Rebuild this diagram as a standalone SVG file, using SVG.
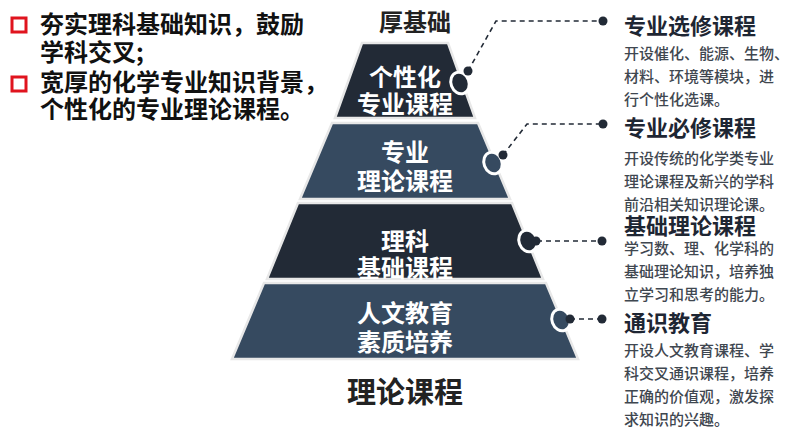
<svg xmlns="http://www.w3.org/2000/svg" width="798" height="433" viewBox="0 0 798 433">
<defs>
<style>
text{font-family:"Noto Sans CJK SC","Liberation Sans",sans-serif;}
.lt{font-size:24px;font-weight:700;fill:#111;}
.layer-dark{fill:#222a36;stroke:#e8e8e8;stroke-width:2.5;}
.layer-slate{fill:#364a60;stroke:#e8e8e8;stroke-width:2.5;}
.lyt{font-size:24px;font-weight:700;fill:#fff;text-anchor:middle;}
.ttl{font-size:22px;font-weight:700;fill:#1e2633;}
.body{font-size:15px;font-weight:500;fill:#3f4750;}
.dash{fill:none;stroke:#222a36;stroke-width:1.6;stroke-dasharray:5 4;}
.dot{fill:#222a36;}
.bump{stroke:#fff;stroke-width:3;}
.mark{fill:#fff;stroke:#e0141e;stroke-width:3;}
</style>
</defs>
<rect width="798" height="433" fill="#fff"/>

<g id="intro">
<rect class="mark" x="12" y="18" width="14" height="14"/>
<text class="lt" x="40" y="33">夯实理科基础知识，鼓励</text>
<text class="lt" x="40" y="61">学科交叉;</text>
<rect class="mark" x="12" y="77" width="14" height="14"/>
<text class="lt" x="40" y="91">宽厚的化学专业知识背景，</text>
<text class="lt" x="40" y="118">个性化的专业理论课程。</text>
</g>

<text id="top-label" x="415" y="31" style="font-size:24px;font-weight:700;fill:#222;text-anchor:middle">厚基础</text>
<text id="bottom-label" x="405" y="403" style="font-size:29px;font-weight:700;fill:#222;text-anchor:middle">理论课程</text>

<g id="layer1">
<polygon class="layer-dark" points="362,43 448,43 475,118 335,118"/>
<text class="lyt" x="405" y="86">个性化</text>
<text class="lyt" x="405" y="113">专业课程</text>
</g>
<g id="layer2">
<polygon class="layer-slate" points="332,123 478,123 510,199 300,199"/>
<text class="lyt" x="405" y="161">专业</text>
<text class="lyt" x="405" y="190">理论课程</text>
</g>
<g id="layer3">
<polygon class="layer-dark" points="298,203 512,203 543,279 267,279"/>
<text class="lyt" x="405" y="250">理科</text>
<text class="lyt" x="405" y="277">基础课程</text>
</g>
<g id="layer4">
<polygon class="layer-slate" points="264,283 546,283 578,359 232,359"/>
<text class="lyt" x="405" y="322">人文教育</text>
<text class="lyt" x="405" y="351">素质培养</text>
</g>

<g id="connectors">
<ellipse class="bump" cx="460" cy="83" rx="9" ry="11" fill="#222a36" transform="rotate(-20 460 83)"/>
<polyline class="dash" points="468,71 496,21 603,21"/>
<circle class="dot" cx="468" cy="71" r="4.5"/>
<circle class="dot" cx="603" cy="21" r="4.5"/>

<ellipse class="bump" cx="493" cy="163" rx="9" ry="11" fill="#364a60" transform="rotate(-20 493 163)"/>
<polyline class="dash" points="503,155 527,124 603,124"/>
<circle class="dot" cx="503" cy="155" r="4.5"/>
<circle class="dot" cx="603" cy="124" r="4.5"/>

<ellipse class="bump" cx="528" cy="241" rx="9" ry="11" fill="#222a36" transform="rotate(-20 528 241)"/>
<line class="dash" x1="537" y1="241" x2="602" y2="241"/>
<circle class="dot" cx="536" cy="241" r="4.5"/>
<circle class="dot" cx="602" cy="241" r="4.5"/>

<ellipse class="bump" cx="561" cy="320" rx="9" ry="11" fill="#364a60" transform="rotate(-20 561 320)"/>
<line class="dash" x1="570" y1="319" x2="602" y2="319"/>
<circle class="dot" cx="570" cy="319" r="4.5"/>
<circle class="dot" cx="602" cy="319" r="4.5"/>
</g>

<g id="desc1">
<text class="ttl" x="624" y="34">专业选修课程</text>
<text class="body" x="624" y="59">开设催化、能源、生物、</text>
<text class="body" x="624" y="82">材料、环境等模块，进</text>
<text class="body" x="624" y="105">行个性化选课。</text>
</g>
<g id="desc2">
<text class="ttl" x="624" y="136">专业必修课程</text>
<text class="body" x="624" y="164">开设传统的化学类专业</text>
<text class="body" x="624" y="187">理论课程及新兴的学科</text>
<text class="body" x="624" y="210">前沿相关知识理论课。</text>
</g>
<g id="desc3">
<text class="ttl" x="624" y="234">基础理论课程</text>
<text class="body" x="624" y="254">学习数、理、化学科的</text>
<text class="body" x="624" y="277">基础理论知识，培养独</text>
<text class="body" x="624" y="300">立学习和思考的能力。</text>
</g>
<g id="desc4">
<text class="ttl" x="624" y="331">通识教育</text>
<text class="body" x="624" y="356">开设人文教育课程、学</text>
<text class="body" x="624" y="379">科交叉通识课程，培养</text>
<text class="body" x="624" y="402">正确的价值观，激发探</text>
<text class="body" x="624" y="425">求知识的兴趣。</text>
</g>
</svg>
